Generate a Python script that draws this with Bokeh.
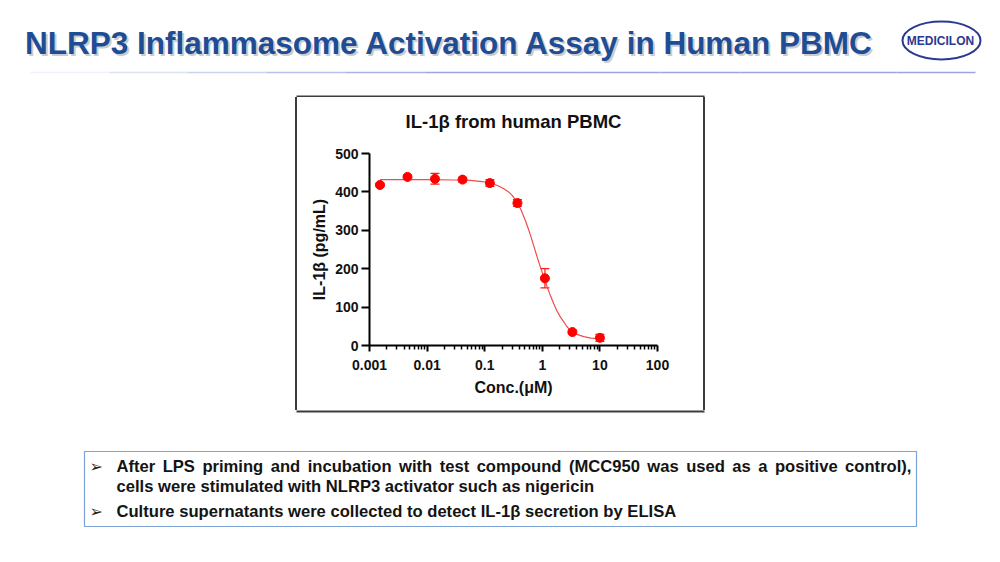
from bokeh.plotting import figure
from bokeh.models import (Range1d, FixedTicker, Whisker, TeeHead, ColumnDataSource,
                          CustomJSTickFormatter, Div, Title)
from bokeh.layouts import column, row
from bokeh.embed import file_html
from bokeh.resources import INLINE
from bokeh.core.properties import value

# ---------------- data ----------------
conc = [0.00152, 0.00457, 0.0137, 0.0412, 0.123, 0.370, 1.11, 3.33, 10.0]
il1b = [418, 439, 434, 432, 423, 371, 175, 35, 20]
il1b_err = [4, 5, 14, 6, 9, 9, 25, 5, 9]

fit_conc = [0.00152, 0.005, 0.01, 0.03, 0.0566, 0.09, 0.126, 0.17, 0.215, 0.26, 0.3, 0.366,
            0.43, 0.51, 0.59, 0.667, 0.74, 0.815, 0.9, 0.995, 1.1, 1.22, 1.4, 1.585, 1.8,
            2.07, 2.6, 3.09, 4.0, 5.25, 7.0, 10.0]
fit_il1b = [432, 432, 432, 431, 430, 427, 423, 416, 408, 400, 391, 373,
            352, 325, 298, 273, 251, 230, 210, 191, 171, 152, 128, 108, 90,
            74, 52, 38, 29, 23, 19, 17]

x_ticks = [0.001, 0.01, 0.1, 1, 10, 100]
y_ticks = [0, 100, 200, 300, 400, 500]

page_title = "NLRP3 Inflammasome Activation Assay in Human PBMC"
chart_title = "IL-1\u03b2 from human PBMC"
x_label = "Conc.(\u03bcM)"
y_label = "IL-1\u03b2 (pg/mL)"
logo_text = "MEDICILON"
line1 = "After LPS priming and incubation with test compound (MCC950 was used as a positive control),"
line2 = "cells were stimulated with NLRP3 activator such as nigericin"
line3 = "Culture supernatants were collected to detect IL-1\u03b2 secretion by ELISA"

FONT = "Liberation Sans"
BOX = "#3c3c3c"


def blank(w, h, xr, yr):
    f = figure(width=w, height=h, x_range=Range1d(*xr), y_range=Range1d(*yr),
               output_backend="svg", toolbar_location=None,
               x_axis_type=None, y_axis_type=None, min_border=0)
    f.outline_line_color = None
    f.background_fill_color = "white"
    f.border_fill_color = "white"
    return f


# ---------------- header ----------------
hdr = blank(1000, 97, (0, 1000), (97, 0))
hdr.text(x=[451], y=[44], text=[page_title], text_font=value(FONT), text_font_style="bold",
         text_font_size="31.5px", text_color="#9a9a9a", text_alpha=0.5,
         text_align="center", text_baseline="middle")
hdr.text(x=[449], y=[42], text=[page_title], text_font=value(FONT), text_font_style="bold",
         text_font_size="31.5px", text_color="#1f4d95",
         text_align="center", text_baseline="middle")
n = 12
xs0 = [30 + i * (975 - 30) / n for i in range(n)]
xs1 = [30 + (i + 1) * (975 - 30) / n for i in range(n)]
alphas = [min(1.0, 0.15 + i * 0.18) for i in range(n)]
hdr.segment(x0=xs0, y0=[72] * n, x1=xs1, y1=[72] * n, line_color="#9aa6e2",
            line_width=1.5, line_alpha=alphas)
hdr.ellipse(x=[941], y=[40], width=[78], height=[38], fill_color=None,
            line_color="#2b3990", line_width=2)
hdr.text(x=[940], y=[40], text=[logo_text], text_font=value(FONT), text_font_style="bold",
         text_font_size="12px", text_color="#2b3990", text_align="center", text_baseline="middle")
# top edge of the chart panel box
hdr.segment(x0=[296], y0=[97], x1=[704], y1=[97], line_color=BOX, line_width=4)

# side fillers carrying the left/right edges of the chart panel box
left = Div(text="", width=297, height=313,
           styles={"border-right": f"2px solid {BOX}", "box-sizing": "border-box",
                   "background": "white", "margin": "0", "padding": "0"})
right = Div(text="", width=297, height=313,
            styles={"border-left": f"2px solid {BOX}", "box-sizing": "border-box",
                    "background": "white", "margin": "0", "padding": "0"})

# ---------------- chart ----------------
p = figure(width=406, height=313, x_axis_type="log", x_range=Range1d(0.001, 100),
           y_range=Range1d(0, 500), output_backend="svg", toolbar_location=None,
           min_border_left=72, min_border_right=46, min_border_top=56, min_border_bottom=65,
           title=chart_title)
p.outline_line_color = None
p.grid.visible = False
p.background_fill_color = "white"
p.border_fill_color = "white"
p.title.text_font = FONT
p.title.text_font_style = "bold"
p.title.text_font_size = "18.5px"
p.title.align = "center"
p.title.text_color = "#111111"
p.title.standoff = 17
# small spacer panel between title and plot frame
p.add_layout(Title(text=" ", text_font_size="10px", standoff=0), "above")

minor = [m * d for d in x_ticks[:-1] for m in range(2, 10)]
p.xaxis.ticker = FixedTicker(ticks=x_ticks, minor_ticks=minor)
p.xaxis.formatter = CustomJSTickFormatter(code="return tick.toString();")
p.yaxis.ticker = FixedTicker(ticks=y_ticks, minor_ticks=[])
p.xaxis.axis_label = x_label
p.yaxis.axis_label = y_label

for ax in (p.xaxis[0], p.yaxis[0]):
    ax.axis_line_width = 2
    ax.axis_line_color = "black"
    ax.major_tick_line_width = 2
    ax.major_tick_line_color = "black"
    ax.major_tick_in = 0
    ax.minor_tick_line_width = 1.5
    ax.minor_tick_line_color = "black"
    ax.minor_tick_in = 0
    ax.major_label_text_font = FONT
    ax.major_label_text_font_style = "bold"
    ax.major_label_text_font_size = "14px"
    ax.major_label_text_color = "#111111"
    ax.axis_label_text_font = FONT
    ax.axis_label_text_font_style = "bold"
    ax.axis_label_text_font_size = "16px"
    ax.axis_label_text_color = "#111111"

p.xaxis.major_tick_out = 6
p.xaxis.minor_tick_out = 4
p.xaxis.major_label_standoff = 8
p.xaxis.axis_label_standoff = 6
p.yaxis.major_tick_out = 8
p.yaxis.minor_tick_out = 0
p.yaxis.major_label_standoff = 3
p.yaxis.axis_label_standoff = 4

p.line(fit_conc, fit_il1b, line_color="#f24a4a", line_width=1.2)
src = ColumnDataSource(dict(x=conc, y=il1b,
                            lower=[v - e for v, e in zip(il1b, il1b_err)],
                            upper=[v + e for v, e in zip(il1b, il1b_err)]))
w = Whisker(base="x", lower="lower", upper="upper", source=src, line_color="#ff1a1a",
            line_width=1.2,
            upper_head=TeeHead(size=9, line_color="#ff1a1a", line_width=1.2),
            lower_head=TeeHead(size=9, line_color="#ff1a1a", line_width=1.2))
p.add_layout(w)
p.scatter("x", "y", source=src, size=9, color="#ff0000")

# ---------------- footer ----------------
ftr = blank(1000, 152, (0, 1000), (562, 410))
ftr.segment(x0=[296], y0=[410], x1=[704], y1=[410], line_color=BOX, line_width=4)
ftr.quad(left=[84], right=[916], top=[451], bottom=[526], fill_color=None,
         line_color="#7ba3d6", line_width=1.2)

AW = {' ': 278, 'A': 722, 'B': 722, 'C': 722, 'D': 722, 'E': 667, 'F': 611, 'G': 778,
      'H': 722, 'I': 278, 'L': 611, 'M': 833, 'N': 722, 'O': 778, 'P': 667, 'R': 722,
      'S': 667, 'T': 611, 'a': 556, 'b': 611, 'c': 556, 'd': 611, 'e': 556, 'f': 333,
      'g': 611, 'h': 611, 'i': 278, 'l': 278, 'm': 889, 'n': 611, 'o': 611, 'p': 611,
      'r': 389, 's': 556, 't': 333, 'u': 611, 'v': 556, 'w': 778, 'y': 556, '(': 333,
      ')': 333, ',': 278, '.': 278, '-': 333}
FS = 16.6


def tw(s):
    return sum(AW.get(c, 556) for c in s) * FS / 1000.0


words = line1.split(" ")
x_start, x_end = 116, 911
gap = (x_end - x_start - sum(tw(wd) for wd in words)) / (len(words) - 1)
wx, cur = [], x_start
for wd in words:
    wx.append(cur)
    cur += tw(wd) + gap

ftr.text(x=wx, y=[466] * len(words), text=words, text_font=value(FONT), text_font_style="bold",
         text_font_size=f"{FS}px", text_color="#141414", text_align="left", text_baseline="middle")
ftr.text(x=[116, 116], y=[486, 511], text=[line2, line3], text_font=value(FONT),
         text_font_style="bold", text_font_size=f"{FS}px", text_color="#141414",
         text_align="left", text_baseline="middle")
ftr.text(x=[89, 89], y=[466, 511], text=["\u27a2", "\u27a2"], text_font=value("DejaVu Sans"),
         text_font_size="16px", text_color="#222222", text_align="left", text_baseline="middle")

layout = column(hdr, row(left, p, right), ftr)
open("out.html", "w").write(file_html(layout, INLINE))
